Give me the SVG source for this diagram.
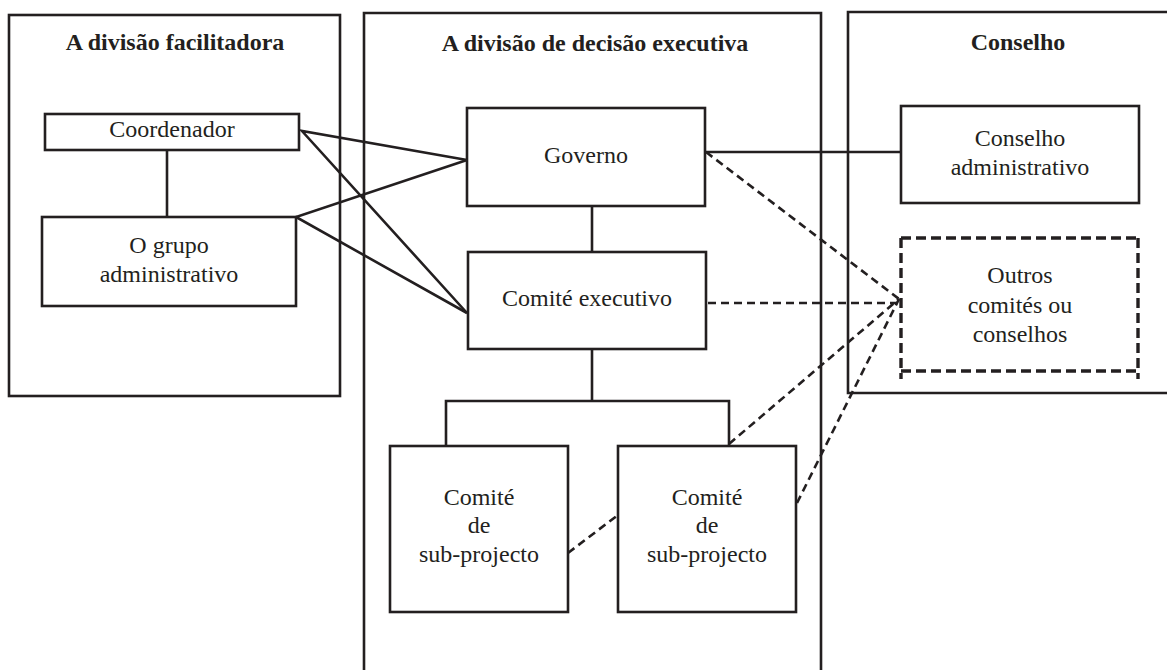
<svg xmlns="http://www.w3.org/2000/svg" width="1167" height="670" viewBox="0 0 1167 670">
<style>
.box{fill:none;stroke:#231f20;stroke-width:2.6}
.ln{fill:none;stroke:#231f20;stroke-width:2.6}
.dl{fill:none;stroke:#231f20;stroke-width:2.6;stroke-dasharray:8 5}
.db{fill:none;stroke:#231f20;stroke-width:3.4;stroke-dasharray:10 5}
.t{font-family:"Liberation Serif","Times New Roman",serif;font-size:24px;fill:#231f20;text-anchor:middle}
.h{font-family:"Liberation Serif","Times New Roman",serif;font-size:24px;font-weight:bold;fill:#231f20;text-anchor:middle}
</style>
<rect width="1167" height="670" fill="#fff"/>
<g id="panel-facilitadora">
<rect class="box" x="9" y="15" width="331" height="381"/>
<text class="h" x="175" y="50">A divisão facilitadora</text>
</g>
<g id="panel-decisao">
<path class="box" d="M364,672 V13 H821 V672"/>
<text class="h" x="595" y="51">A divisão de decisão executiva</text>
</g>
<g id="panel-conselho">
<path class="box" d="M1170,12 H848 V393 H1170"/>
<text class="h" x="1018" y="50">Conselho</text>
</g>
<g id="coordenador">
<rect class="box" x="45" y="114" width="254" height="36"/>
<text class="t" x="172" y="137">Coordenador</text>
</g>
<g id="grupo-administrativo">
<rect class="box" x="42" y="217" width="254" height="89"/>
<text class="t" x="169" y="253">O grupo</text>
<text class="t" x="169" y="282">administrativo</text>
</g>
<g id="governo">
<rect class="box" x="467" y="108" width="238" height="98"/>
<text class="t" x="586" y="163">Governo</text>
</g>
<g id="comite-executivo">
<rect class="box" x="468" y="252" width="238" height="97"/>
<text class="t" x="587" y="306">Comité executivo</text>
</g>
<g id="conselho-administrativo">
<rect class="box" x="901" y="106" width="238" height="97"/>
<text class="t" x="1020" y="146">Conselho</text>
<text class="t" x="1020" y="175">administrativo</text>
</g>
<g id="outros-comites">
<line class="db" x1="901" y1="238" x2="1138" y2="238"/>
<line class="db" x1="901" y1="371" x2="1138" y2="371"/>
<line class="db" x1="901" y1="238" x2="901" y2="379"/>
<line class="db" x1="1138" y1="238" x2="1138" y2="379"/>
<text class="t" x="1020" y="283">Outros</text>
<text class="t" x="1020" y="313">comités ou</text>
<text class="t" x="1020" y="342">conselhos</text>
</g>
<g id="subprojecto-1">
<rect class="box" x="390" y="446" width="178" height="166"/>
<text class="t" x="479" y="505">Comité</text>
<text class="t" x="479" y="533">de</text>
<text class="t" x="479" y="562">sub-projecto</text>
</g>
<g id="subprojecto-2">
<rect class="box" x="618" y="446" width="178" height="166"/>
<text class="t" x="707" y="505">Comité</text>
<text class="t" x="707" y="533">de</text>
<text class="t" x="707" y="562">sub-projecto</text>
</g>
<g id="connectors">
<line class="ln" x1="167" y1="150" x2="167" y2="217"/>
<polyline class="ln" points="467,160 302,131 467,313"/>
<polyline class="ln" points="467,160 296,217 467,313"/>
<line class="ln" x1="592" y1="206" x2="592" y2="252"/>
<line class="ln" x1="705" y1="152" x2="901" y2="152"/>
<line class="ln" x1="592" y1="349" x2="592" y2="401"/>
<polyline class="ln" points="446,446 446,401 729,401 729,446"/>
<line class="dl" x1="706" y1="152" x2="899" y2="299"/>
<line class="dl" x1="708" y1="303" x2="899" y2="303"/>
<line class="dl" x1="729" y1="444" x2="899" y2="299"/>
<line class="dl" x1="797" y1="503" x2="899" y2="299"/>
<line class="dl" x1="568" y1="553" x2="618" y2="515"/>
</g>
</svg>
